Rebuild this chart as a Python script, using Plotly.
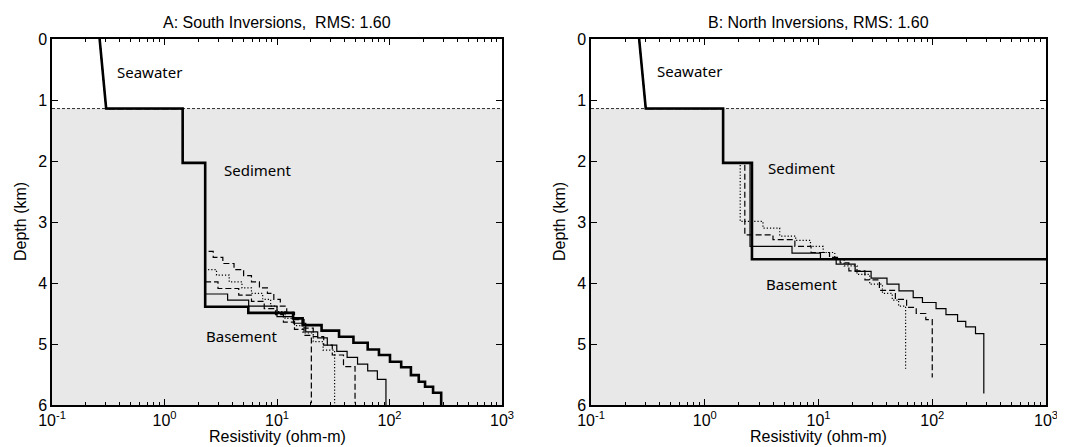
import math
import plotly.graph_objects as go

# ---------------- data ----------------
# shared seawater resistivity profile
sw_depth = [0.0, 0.25, 0.5, 0.75, 1.0, 1.14]
sw_rho = [0.265, 0.272, 0.281, 0.29, 0.298, 0.303]
seafloor_depth = 1.14

# Panel A: South inversions  (layer resistivity, layer top depth, bottom depth)
a_thick_rho = [1.45, 2.3, 5.56, 13.9, 16.9, 24.9, 35.6, 47.8, 64, 80.6, 101, 127, 155, 182, 207, 244, 288]
a_thick_top = [1.14, 2.03, 4.39, 4.49, 4.58, 4.69, 4.78, 4.88, 4.98, 5.09, 5.18, 5.29, 5.38, 5.51, 5.62, 5.70, 5.80]
a_thick_bot = 6.0

a_thin_rho = [1.45, 2.3, 3.64, 5.6, 10, 14, 18, 23, 28, 34, 42, 52, 64, 78, 93]
a_thin_top = [1.14, 2.03, 4.18, 4.28, 4.38, 4.55, 4.66, 4.80, 4.90, 5.02, 5.12, 5.22, 5.33, 5.44, 5.58]
a_thin_bot = 6.0

a_dash1_rho = [1.45, 2.3, 2.71, 3.30, 4.15, 5.05, 5.93, 6.98, 8.22, 9.37, 10.7, 12.2, 14.3, 17.4, 21, 26, 31, 39, 49.4]
a_dash1_top = [1.14, 2.03, 3.48, 3.58, 3.68, 3.78, 3.88, 3.98, 4.08, 4.17, 4.27, 4.38, 4.48, 4.60, 4.74, 4.88, 5.02, 5.18, 5.37]
a_dash1_bot = 5.97

a_dot_rho = [1.45, 2.3, 2.90, 3.76, 4.88, 5.93, 7.46, 8.78, 10, 11.8, 14.3, 17, 21, 25.7, 32.5]
a_dot_top = [1.14, 2.03, 3.78, 3.87, 3.98, 4.08, 4.17, 4.27, 4.38, 4.47, 4.58, 4.70, 4.82, 4.96, 5.10]
a_dot_bot = 5.97

a_dash2_rho = [1.45, 2.3, 2.99, 4.57, 5.93, 7.7, 9.7, 11.4, 14.3, 17.4, 20.2]
a_dash2_top = [1.14, 2.03, 3.98, 4.09, 4.20, 4.30, 4.42, 4.52, 4.64, 4.76, 4.86]
a_dash2_bot = 5.97

# Panel B: North inversions
b_thick_rho = [1.45, 2.6, 3000]
b_thick_top = [1.14, 2.03, 3.61]
b_thick_bot = 6.0

b_thin_rho = [1.45, 2.5, 5.85, 10.4, 14.3, 21, 29, 40, 51, 68, 82, 108, 132, 167, 197, 240, 284]
b_thin_top = [1.14, 2.03, 3.40, 3.51, 3.61, 3.69, 3.81, 3.92, 4.02, 4.13, 4.24, 4.32, 4.42, 4.52, 4.63, 4.72, 4.83]
b_thin_bot = 5.81

b_dash_rho = [1.45, 2.25, 3.98, 6.2, 8.6, 12.5, 15.5, 18.5, 25.6, 34.3, 47.4, 59.5, 72.3, 87.8, 100]
b_dash_top = [1.14, 2.03, 3.21, 3.29, 3.40, 3.50, 3.58, 3.67, 3.80, 3.95, 4.12, 4.27, 4.40, 4.50, 4.60]
b_dash_bot = 5.55

b_dot_rho = [1.45, 2.05, 3.25, 4.56, 6.3, 8.5, 11, 13.9, 16.8, 21.8, 28.2, 36.5, 44.5, 50.6, 58.3]
b_dot_top = [1.14, 2.03, 2.99, 3.10, 3.23, 3.30, 3.40, 3.50, 3.60, 3.72, 3.86, 4.02, 4.17, 4.28, 4.38]
b_dot_bot = 5.43

x_tick_vals = [0.1, 1, 10, 100, 1000]
x_tick_text = ["10<sup>-1</sup>", "10<sup>0</sup>", "10<sup>1</sup>", "10<sup>2</sup>", "10<sup>3</sup>"]
y_tick_vals = [0, 1, 2, 3, 4, 5, 6]

titles = ["A: South Inversions,\u00a0 RMS: 1.60", "B: North Inversions, RMS: 1.60"]
x_title = "Resistivity (ohm-m)"
y_title = "Depth (km)"

# ---------------- figure ----------------
def profile(rho, top, bottom):
    xs = list(sw_rho)
    ys = list(sw_depth)
    for i, r in enumerate(rho):
        d0 = top[i]
        d1 = top[i + 1] if i + 1 < len(top) else bottom
        xs += [r, r]
        ys += [d0, d1]
    return xs, ys

fig = go.Figure()

thin_w = 1.2
styles = {
    "thick": dict(color="black", width=2.6),
    "thin": dict(color="black", width=thin_w),
    "dash": dict(color="black", width=thin_w, dash="6px,3px"),
    "dot": dict(color="black", width=thin_w, dash="1.2px,2px"),
}

panelA = [
    (a_dash1_rho, a_dash1_top, a_dash1_bot, "dash"),
    (a_dot_rho, a_dot_top, a_dot_bot, "dot"),
    (a_dash2_rho, a_dash2_top, a_dash2_bot, "dash"),
    (a_thin_rho, a_thin_top, a_thin_bot, "thin"),
    (a_thick_rho, a_thick_top, a_thick_bot, "thick"),
]
panelB = [
    (b_dot_rho, b_dot_top, b_dot_bot, "dot"),
    (b_dash_rho, b_dash_top, b_dash_bot, "dash"),
    (b_thin_rho, b_thin_top, b_thin_bot, "thin"),
    (b_thick_rho, b_thick_top, b_thick_bot, "thick"),
]

for xa, ya, panel in (("x", "y", panelA), ("x2", "y2", panelB)):
    for rho, top, bot, st in panel:
        xs, ys = profile(rho, top, bot)
        fig.add_trace(go.Scatter(x=xs, y=ys, mode="lines", line=styles[st],
                                 xaxis=xa, yaxis=ya, showlegend=False, hoverinfo="skip"))

W, H = 1065, 447
left_dom = [44 / W, 494 / W]
right_dom = [583 / W, 1038 / W]
y_dom = [1 - 397 / H, 1 - 31 / H]

minor_vals = [m * 10 ** e for e in range(-1, 3) for m in range(2, 10)]

FONT = "Liberation Sans, Arial, sans-serif"
axis_font = dict(family=FONT, size=16, color="black")

def xaxis_cfg(dom):
    return dict(domain=dom, type="log", range=[-1, 3], tickmode="array",
                tickvals=x_tick_vals, ticktext=x_tick_text, ticks="inside", ticklen=6,
                tickwidth=1, tickcolor="black", showline=True, linecolor="black", linewidth=1.5,
                mirror="ticks", showgrid=False, zeroline=False, tickfont=axis_font,
                minor=dict(tickmode="array", tickvals=minor_vals, ticks="inside", ticklen=3,
                           tickcolor="black", tickwidth=1, showgrid=False),
                automargin=False)

def yaxis_cfg(anchor):
    return dict(domain=y_dom, range=[6, 0], tickmode="array", tickvals=y_tick_vals,
                ticks="inside", ticklen=6, tickwidth=1, tickcolor="black", showline=True,
                linecolor="black", linewidth=1.5, mirror="ticks", showgrid=False, zeroline=False,
                tickfont=axis_font, anchor=anchor, automargin=False)

fig.update_layout(
    width=W, height=H, margin=dict(l=0, r=0, t=0, b=0),
    paper_bgcolor="white", plot_bgcolor="white",
    xaxis=dict(xaxis_cfg(left_dom), anchor="y"),
    yaxis=yaxis_cfg("x"),
    xaxis2=dict(xaxis_cfg(right_dom), anchor="y2"),
    yaxis2=yaxis_cfg("x2"),
)

shapes = []
for xr, yr in (("x", "y"), ("x2", "y2")):
    shapes.append(dict(type="rect", xref=f"{xr} domain", yref=yr, x0=0, x1=1,
                       y0=seafloor_depth, y1=6, fillcolor="#e8e8e8", line=dict(width=0), layer="below"))
    shapes.append(dict(type="line", xref=f"{xr} domain", yref=yr, x0=0, x1=1,
                       y0=seafloor_depth, y1=seafloor_depth,
                       line=dict(color="#333333", width=1, dash="3px,2px"), layer="below"))
fig.update_layout(shapes=shapes)

label_font = dict(family="Noto Sans, sans-serif", size=15, color="black")
ann = []
for xr, yr, labels in (
    ("x", "y", [("Seawater", 0.73, 0.54), ("Sediment", 6.8, 2.14), ("Basement", 4.9, 4.87)]),
    ("x2", "y2", [("Seawater", 0.74, 0.53), ("Sediment", 7.2, 2.12), ("Basement", 7.1, 4.02)]),
):
    for txt, xv, yv in labels:
        ann.append(dict(text=txt, x=math.log10(xv), y=yv, xref=xr, yref=yr, showarrow=False,
                        font=label_font, xanchor="center", yanchor="middle"))
for t, cx in zip(titles, [269 / W, 810 / W]):
    ann.append(dict(text=t, x=cx, y=1 - 14 / H, xref="paper", yref="paper", showarrow=False,
                    font=dict(family=FONT, size=16, color="black"),
                    xanchor="center", yanchor="middle"))
# axis titles
for cx in (269, 810):
    ann.append(dict(text=x_title, x=cx / W, y=1 - 428 / H, xref="paper", yref="paper",
                    showarrow=False, font=dict(family=FONT, size=16, color="black"),
                    xanchor="center", yanchor="middle"))
for px in (12, 551):
    ann.append(dict(text=y_title, x=px / W, y=1 - 214 / H, xref="paper", yref="paper",
                    showarrow=False, textangle=-90, font=dict(family=FONT, size=16, color="black"),
                    xanchor="center", yanchor="middle"))
fig.update_layout(annotations=ann)

fig.write_html("out.html")
